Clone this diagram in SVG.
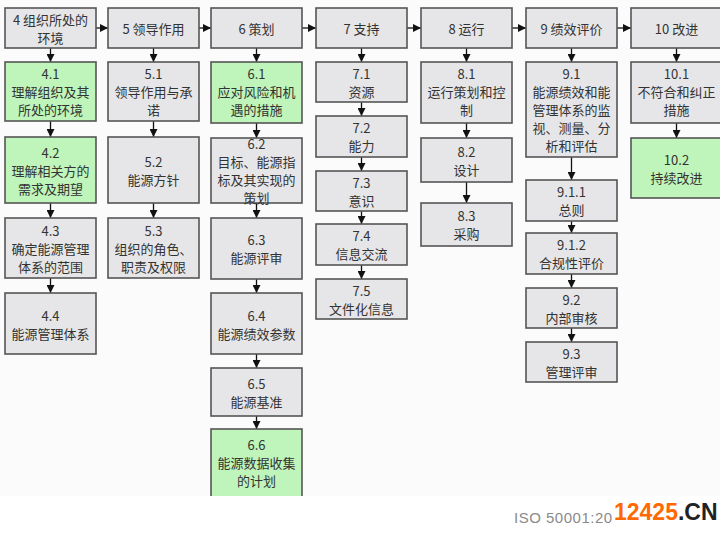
<svg xmlns="http://www.w3.org/2000/svg" width="720" height="535" viewBox="0 0 720 535">
<style>
.b{fill:#e6e6e8;stroke:#555;stroke-width:1.6}
.g{fill:#bff5ba;stroke:#555;stroke-width:1.6}
text{font-family:"Noto Sans CJK SC","Liberation Sans",sans-serif;font-size:13px;fill:#333;text-anchor:middle;dominant-baseline:central}
.c line{stroke:#111;stroke-width:1.3}
</style>
<defs>
<marker id="ah" markerUnits="userSpaceOnUse" markerWidth="8" markerHeight="8" refX="8" refY="4" orient="auto" viewBox="0 0 8 8">
<path d="M0,0 L8,4 L0,8 z" fill="#111"/>
</marker>
</defs>
<rect x="0" y="0" width="720" height="496" fill="#fbfbfb"/>

<g class="c" marker-end="url(#ah)">
<line x1="96" y1="28" x2="108" y2="28"/>
<line x1="199" y1="28" x2="211" y2="28"/>
<line x1="302" y1="28" x2="316" y2="28"/>
<line x1="407" y1="28" x2="421" y2="28"/>
<line x1="512" y1="28" x2="526" y2="28"/>
<line x1="617" y1="28" x2="631" y2="28"/>
<line x1="50.5" y1="48" x2="50.5" y2="62"/>
<line x1="50.5" y1="121" x2="50.5" y2="137"/>
<line x1="50.5" y1="203" x2="50.5" y2="218"/>
<line x1="50.5" y1="278" x2="50.5" y2="293"/>
<line x1="153.5" y1="48" x2="153.5" y2="62"/>
<line x1="153.5" y1="121" x2="153.5" y2="137"/>
<line x1="153.5" y1="203" x2="153.5" y2="218"/>
<line x1="256.5" y1="48" x2="256.5" y2="62"/>
<line x1="256.5" y1="123" x2="256.5" y2="138"/>
<line x1="256.5" y1="203" x2="256.5" y2="218"/>
<line x1="256.5" y1="279" x2="256.5" y2="293"/>
<line x1="256.5" y1="354" x2="256.5" y2="368"/>
<line x1="256.5" y1="416" x2="256.5" y2="429"/>
<line x1="361.5" y1="48" x2="361.5" y2="62"/>
<line x1="361.5" y1="102" x2="361.5" y2="116"/>
<line x1="361.5" y1="157" x2="361.5" y2="171"/>
<line x1="361.5" y1="211" x2="361.5" y2="224"/>
<line x1="361.5" y1="265" x2="361.5" y2="279"/>
<line x1="466.5" y1="48" x2="466.5" y2="62"/>
<line x1="466.5" y1="123" x2="466.5" y2="138"/>
<line x1="466.5" y1="182" x2="466.5" y2="203"/>
<line x1="571.5" y1="48" x2="571.5" y2="62"/>
<line x1="571.5" y1="157" x2="571.5" y2="180"/>
<line x1="571.5" y1="221" x2="571.5" y2="233"/>
<line x1="571.5" y1="274" x2="571.5" y2="288"/>
<line x1="571.5" y1="328" x2="571.5" y2="342"/>
<line x1="676.5" y1="48" x2="676.5" y2="62"/>
<line x1="676.5" y1="123" x2="676.5" y2="138"/>
</g>

<g id="n4"><rect class="b" x="5" y="8" width="91" height="40"/><text x="50.5" y="19">4 组织所处的</text><text x="50.5" y="37">环境</text></g>
<g id="n4_1"><rect class="g" x="5" y="62" width="91" height="59"/><text x="50.5" y="73">4.1</text><text x="50.5" y="91">理解组织及其</text><text x="50.5" y="109">所处的环境</text></g>
<g id="n4_2"><rect class="g" x="5" y="137" width="91" height="66"/><text x="50.5" y="152">4.2</text><text x="50.5" y="170">理解相关方的</text><text x="50.5" y="188">需求及期望</text></g>
<g id="n4_3"><rect class="b" x="5" y="218" width="91" height="60"/><text x="50.5" y="230">4.3</text><text x="50.5" y="248">确定能源管理</text><text x="50.5" y="266">体系的范围</text></g>
<g id="n4_4"><rect class="b" x="5" y="293" width="91" height="61"/><text x="50.5" y="315">4.4</text><text x="50.5" y="333">能源管理体系</text></g>

<g id="n5"><rect class="b" x="108" y="8" width="91" height="40"/><text x="153.5" y="28">5 领导作用</text></g>
<g id="n5_1"><rect class="b" x="108" y="62" width="91" height="59"/><text x="153.5" y="73">5.1</text><text x="153.5" y="91">领导作用与承</text><text x="153.5" y="109">诺</text></g>
<g id="n5_2"><rect class="b" x="108" y="137" width="91" height="66"/><text x="153.5" y="161">5.2</text><text x="153.5" y="179">能源方针</text></g>
<g id="n5_3"><rect class="b" x="108" y="218" width="91" height="60"/><text x="153.5" y="230">5.3</text><text x="153.5" y="248">组织的角色、</text><text x="153.5" y="266">职责及权限</text></g>

<g id="n6"><rect class="b" x="211" y="8" width="91" height="40"/><text x="256.5" y="28">6 策划</text></g>
<g id="n6_1"><rect class="g" x="211" y="62" width="91" height="61"/><text x="256.5" y="73">6.1</text><text x="256.5" y="91">应对风险和机</text><text x="256.5" y="109">遇的措施</text></g>
<g id="n6_2"><rect class="b" x="211" y="138" width="91" height="65"/><text x="256.5" y="143">6.2</text><text x="256.5" y="161">目标、能源指</text><text x="256.5" y="179">标及其实现的</text><text x="256.5" y="197">策划</text></g>
<g id="n6_3"><rect class="b" x="211" y="218" width="91" height="61"/><text x="256.5" y="239">6.3</text><text x="256.5" y="257">能源评审</text></g>
<g id="n6_4"><rect class="b" x="211" y="293" width="91" height="61"/><text x="256.5" y="315">6.4</text><text x="256.5" y="333">能源绩效参数</text></g>
<g id="n6_5"><rect class="b" x="211" y="368" width="91" height="48"/><text x="256.5" y="383">6.5</text><text x="256.5" y="401">能源基准</text></g>
<g id="n6_6"><rect class="g" x="211" y="429" width="91" height="80"/><text x="256.5" y="444">6.6</text><text x="256.5" y="462">能源数据收集</text><text x="256.5" y="480">的计划</text></g>
<rect x="0" y="496" width="720" height="39" fill="#fff"/>

<g id="n7"><rect class="b" x="316" y="8" width="91" height="40"/><text x="361.5" y="28">7 支持</text></g>
<g id="n7_1"><rect class="b" x="316" y="62" width="91" height="40"/><text x="361.5" y="73">7.1</text><text x="361.5" y="91">资源</text></g>
<g id="n7_2"><rect class="b" x="316" y="116" width="91" height="41"/><text x="361.5" y="127.5">7.2</text><text x="361.5" y="145.5">能力</text></g>
<g id="n7_3"><rect class="b" x="316" y="171" width="91" height="40"/><text x="361.5" y="182">7.3</text><text x="361.5" y="200">意识</text></g>
<g id="n7_4"><rect class="b" x="316" y="224" width="91" height="41"/><text x="361.5" y="235.5">7.4</text><text x="361.5" y="253.5">信息交流</text></g>
<g id="n7_5"><rect class="b" x="316" y="279" width="91" height="40"/><text x="361.5" y="290">7.5</text><text x="361.5" y="308">文件化信息</text></g>

<g id="n8"><rect class="b" x="421" y="8" width="91" height="40"/><text x="466.5" y="28">8 运行</text></g>
<g id="n8_1"><rect class="b" x="421" y="62" width="91" height="61"/><text x="466.5" y="73">8.1</text><text x="466.5" y="91">运行策划和控</text><text x="466.5" y="109">制</text></g>
<g id="n8_2"><rect class="b" x="421" y="138" width="91" height="44"/><text x="466.5" y="151">8.2</text><text x="466.5" y="169">设计</text></g>
<g id="n8_3"><rect class="b" x="421" y="203" width="91" height="43"/><text x="466.5" y="215.5">8.3</text><text x="466.5" y="233.5">采购</text></g>

<g id="n9"><rect class="b" x="526" y="8" width="91" height="40"/><text x="571.5" y="28">9 绩效评价</text></g>
<g id="n9_1"><rect class="b" x="526" y="62" width="91" height="95"/><text x="571.5" y="73">9.1</text><text x="571.5" y="91">能源绩效和能</text><text x="571.5" y="109">管理体系的监</text><text x="571.5" y="127">视、测量、分</text><text x="571.5" y="145">析和评估</text></g>
<g id="n9_1_1"><rect class="b" x="526" y="180" width="91" height="41"/><text x="571.5" y="191.5">9.1.1</text><text x="571.5" y="209.5">总则</text></g>
<g id="n9_1_2"><rect class="b" x="526" y="233" width="91" height="41"/><text x="571.5" y="244.5">9.1.2</text><text x="571.5" y="262.5">合规性评价</text></g>
<g id="n9_2"><rect class="b" x="526" y="288" width="91" height="40"/><text x="571.5" y="299">9.2</text><text x="571.5" y="317">内部审核</text></g>
<g id="n9_3"><rect class="b" x="526" y="342" width="91" height="40"/><text x="571.5" y="353">9.3</text><text x="571.5" y="371">管理评审</text></g>

<g id="n10"><rect class="b" x="631" y="8" width="92" height="40"/><text x="676.5" y="28">10 改进</text></g>
<g id="n10_1"><rect class="b" x="631" y="62" width="92" height="61"/><text x="676.5" y="73">10.1</text><text x="676.5" y="91">不符合和纠正</text><text x="676.5" y="109">措施</text></g>
<g id="n10_2"><rect class="g" x="631" y="138" width="92" height="60"/><text x="676.5" y="159">10.2</text><text x="676.5" y="177">持续改进</text></g>

<text x="514" y="517" style="text-anchor:start;font-family:'Liberation Sans',sans-serif;font-size:15px;fill:#8a8a8a;letter-spacing:0.5px">ISO 50001:20</text>
<text x="614" y="512" style="text-anchor:start;font-family:'Liberation Sans',sans-serif;font-size:23px;font-weight:bold"><tspan fill="#ff6a00">12425</tspan><tspan fill="#222">.CN</tspan></text>
</svg>
